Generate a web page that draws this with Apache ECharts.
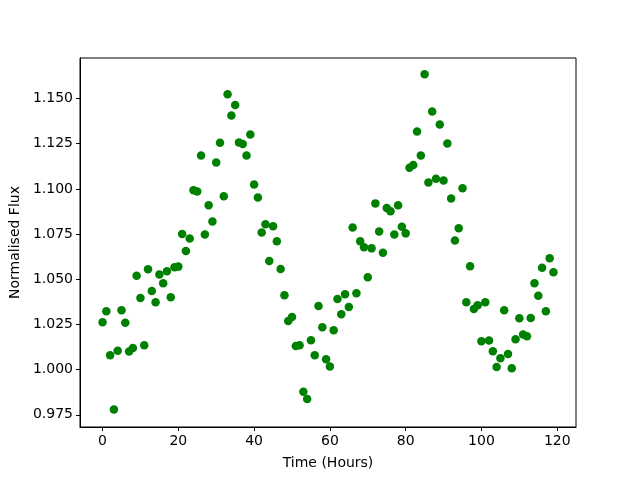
<!DOCTYPE html>
<html>
<head>
<meta charset="utf-8">
<script src="https://cdn.jsdelivr.net/npm/echarts@6/dist/echarts.min.js"></script>
<style>
  html, body { margin: 0; padding: 0; background: #fff; }
  #chart { width: 640px; height: 480px; }
</style>
</head>
<body>
<div id="chart"></div>
<script>
// hourly normalised flux (hours 0..119)
const hours = Array.from({ length: 120 }, (_, i) => i);
const flux = [
  1.0262, 1.0323, 1.0080, 0.9779, 1.0105, 1.0328, 1.0260, 1.0100, 1.0120, 1.0520,
  1.0397, 1.0135, 1.0555, 1.0435, 1.0373, 1.0527, 1.0478, 1.0544, 1.0400, 1.0566,
  1.0570, 1.0750, 1.0656, 1.0726, 1.0992, 1.0986, 1.1185, 1.0748, 1.0909, 1.0820,
  1.1146, 1.1255, 1.0960, 1.1524, 1.1406, 1.1465, 1.1257, 1.1249, 1.1185, 1.1301,
  1.1025, 1.0953, 1.0759, 1.0804, 1.0601, 1.0793, 1.0711, 1.0557, 1.0411, 1.0269,
  1.0291, 1.0131, 1.0135, 0.9877, 0.9837, 1.0163, 1.0080, 1.0352, 1.0235, 1.0058,
  1.0017, 1.0218, 1.0391, 1.0306, 1.0417, 1.0347, 1.0787, 1.0422, 1.0710, 1.0677,
  1.0511, 1.0671, 1.0920, 1.0765, 1.0647, 1.0894, 1.0876, 1.0748, 1.0910, 1.0790,
  1.0754, 1.1117, 1.1133, 1.1318, 1.1185, 1.1634, 1.1036, 1.1428, 1.1056, 1.1356,
  1.1047, 1.1251, 1.0947, 1.0715, 1.0782, 1.1004, 1.0373, 1.0572, 1.0336, 1.0356,
  1.0157, 1.0373, 1.0161, 1.0102, 1.0014, 1.0063, 1.0328, 1.0087, 1.0008, 1.0168,
  1.0284, 1.0194, 1.0185, 1.0286, 1.0478, 1.0409, 1.0564, 1.0323, 1.0616, 1.0539
];
const xTicks = [0, 20, 40, 60, 80, 100, 120];
const yTicks = [0.975, 1.0, 1.025, 1.05, 1.075, 1.1, 1.125, 1.15];

const chart = echarts.init(document.getElementById('chart'));

const font = 'DejaVu Sans';
const axisCommon = {
  axisLine: { show: true, onZero: false, lineStyle: { color: '#000', width: 1 } },
  axisTick: { show: true, length: 4, lineStyle: { color: '#000' } },
  splitLine: { show: false },
  nameTextStyle: { color: '#000', fontFamily: font, fontSize: 14 }
};

chart.setOption({
  animation: false,
  grid: {
    left: 80, right: 64, top: 58, bottom: 53,
    show: true, borderColor: '#000', borderWidth: 1,
    containLabel: false
  },
  xAxis: Object.assign({}, axisCommon, {
    type: 'value',
    min: -5.95,
    max: 124.95,
    name: 'Time (Hours)',
    nameLocation: 'middle',
    nameGap: 29,
    axisTick: Object.assign({}, axisCommon.axisTick, { customValues: xTicks }),
    axisLabel: {
      customValues: xTicks,
      margin: 7,
      color: '#000', fontFamily: font, fontSize: 14
    }
  }),
  yAxis: Object.assign({}, axisCommon, {
    type: 'value',
    min: 0.96825,
    max: 1.17245,
    name: 'Normalised Flux',
    nameLocation: 'middle',
    nameGap: 56,
    axisTick: Object.assign({}, axisCommon.axisTick, { customValues: yTicks }),
    axisLabel: {
      customValues: yTicks,
      margin: 7,
      color: '#000', fontFamily: font, fontSize: 14,
      formatter: v => v.toFixed(3)
    }
  }),
  series: [{
    type: 'scatter',
    data: hours.map((h, i) => [h, flux[i]]),
    symbol: 'circle',
    symbolSize: 8.5,
    itemStyle: { color: '#008000', opacity: 1 }
  }]
});
</script>
</body>
</html>
